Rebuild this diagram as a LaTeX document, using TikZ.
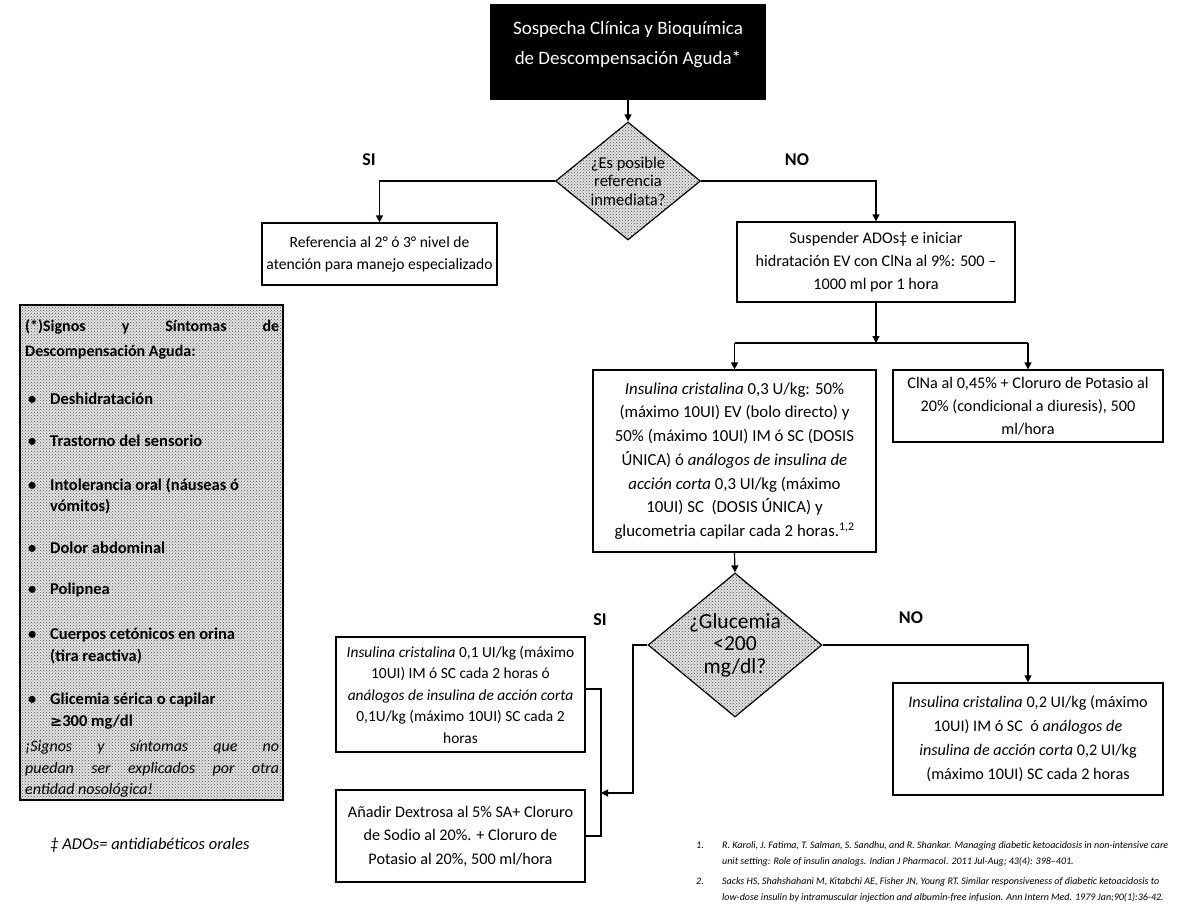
\documentclass[tikz,border=0pt]{standalone}
\usepackage{fontspec}
\setmainfont{Carlito}
\newfontfamily\dvsans{DejaVu Sans}
\usetikzlibrary{arrows.meta,shapes.geometric,patterns}
\hyphenpenalty=10000
\begin{document}
\begin{tikzpicture}[x=1pt,y=-1pt,
  arr/.style={line width=1.2pt,-{Triangle[length=7pt,width=7pt]}},
  ln/.style={line width=1.2pt},
  bx/.style={draw,line width=1.2pt,align=center,inner sep=0pt,font=\fontsize{16.2}{23}\selectfont},
  speck/.style={preaction={fill=gray!22},pattern=crosshatch dots,pattern color=black!70},
  dec/.style={diamond,draw,line width=1.2pt,speck,inner sep=0pt,align=center},
  lab/.style={font=\fontsize{18}{18}\selectfont\bfseries},
  lp/.style={anchor=base west,inner sep=0pt,font=\fontsize{16.5}{19}\selectfont\bfseries},
  lpt/.style={anchor=base west,inner sep=0pt,font=\fontsize{16}{19}\selectfont\bfseries},
  lpi/.style={anchor=base west,inner sep=0pt,font=\fontsize{16}{19}\selectfont\itshape},
  refs/.style={anchor=base west,inner sep=0pt,font=\fontsize{10}{11}\selectfont\itshape}
]
\useasboundingbox (0,0) rectangle (1179,906);
\fill[white] (0,0) rectangle (1179,906);

% top box
\node[fill=black,minimum width=276pt,minimum height=96pt,inner sep=0pt] (top) at (628,52) {};
\node[text=white,align=center,inner sep=0pt,font=\fontsize{19}{30}\selectfont] (toptxt) at (628,45) {Sospecha Clínica y Bioquímica\\de Descompensación Aguda*};

% decision 1
\node[dec,minimum width=145pt,minimum height=118pt,aspect=1.23,font=\fontsize{16.5}{18.5}\selectfont] (d1) at (628,181) {¿Es posible\\referencia\\inmediata?};
\node[lab] (si1) at (369,160) {SI};
\node[lab] (no1) at (797,160) {NO};

% boxes row 1
\node[bx,minimum width=235pt,minimum height=62pt,font=\fontsize{15.6}{22}\selectfont] (ref) at (379.5,254) {Referencia al 2° ó 3° nivel de\\atención para manejo especializado};
\node[bx,minimum width=278pt,minimum height=80pt] (susp) at (876,262) {Suspender ADOs‡ e iniciar\\hidratación EV con ClNa al 9\%: 500 –\\1000 ml por 1 hora};

% boxes row 2
\node[bx,minimum width=283pt,minimum height=182pt,font=\fontsize{16.8}{23.7}\selectfont] (ins) at (734.5,461) {\textit{Insulina cristalina} 0,3 U/kg: 50\%\\(máximo 10UI) EV (bolo directo) y\\50\% (máximo 10UI) IM ó SC (DOSIS\\ÚNICA) ó \textit{análogos de insulina de}\\\textit{acción corta} 0,3 UI/kg (máximo\\10UI) SC\ \ (DOSIS ÚNICA) y\\glucometria capilar cada 2 horas.\textsuperscript{1,2}};
\node[bx,minimum width=270pt,minimum height=72pt] (cl) at (1028,406) {ClNa al 0,45\% + Cloruro de Potasio al\\20\% (condicional a diuresis), 500\\ml/hora};

% decision 2
\node[dec,minimum width=174pt,minimum height=144pt,aspect=1.21,font=\fontsize{21.5}{22.5}\selectfont] (d2) at (735,645) {¿Glucemia\\<200\\mg/dl?};
\node[lab] (si2) at (600,620) {SI};
\node[lab] (no2) at (911,618) {NO};

% bottom boxes
\node[bx,minimum width=270pt,minimum height=112pt,font=\fontsize{16.2}{24}\selectfont] (br) at (1028,739) {\textit{Insulina cristalina} 0,2 UI/kg (máximo\\10UI) IM ó SC\ \ ó \textit{análogos de}\\\textit{insulina de acción corta} 0,2 UI/kg\\(máximo 10UI) SC cada 2 horas};
\node[bx,minimum width=249pt,minimum height=115pt,font=\fontsize{15.4}{21.5}\selectfont] (b1) at (460.5,694.5) {\textit{Insulina cristalina} 0,1 UI/kg (máximo\\10UI) IM ó SC cada 2 horas ó\\\textit{análogos de insulina de acción corta}\\0,1U/kg (máximo 10UI) SC cada 2\\horas};
\node[bx,minimum width=249pt,minimum height=92pt,font=\fontsize{16.2}{23.5}\selectfont] (b2) at (460.5,836) {Añadir Dextrosa al 5\% SA+ Cloruro\\de Sodio al 20\%. + Cloruro de\\Potasio al 20\%, 500 ml/hora};

% connectors
\coordinate (j0) at (876,343);
\coordinate (jl) at (734.5,343);
\coordinate (jr) at (1028,343);
\coordinate (sa) at (633,645);
\coordinate (bt) at (601,689);
\coordinate (bm) at (601,793);
\coordinate (bb) at (601,836);
\draw[arr] (top.south) -- (d1.north);
\draw[arr] (d1.west) -| (ref.north);
\draw[arr] (d1.east) -| (susp.north);
\draw[arr] (susp.south) -- (j0);
\draw[ln] (jl) -- (jr);
\draw[arr] (jl) -- (ins.north);
\draw[arr] (jr) -- (cl.north);
\draw[arr] (ins.south) -- (d2.north);
\draw[arr] (d2.east) -| (br.north);
\draw[arr] (d2.west) -- (sa) |- (bm);
\draw[ln] (bt -| b1.east) -- (bt) -- (bb) -- (b2.east);

% left panel
\node[draw,line width=1.2pt,speck,minimum width=263pt,minimum height=495pt,inner sep=0pt] (panel) at (151.5,552.5) {};
\node[lpt] (p1) at (25,331) {\makebox[254pt][s]{(*)Signos y Síntomas de}};
\node[lpt] (p2) at (25,356) {Descompensación Aguda:};
\node[lp] (b01) at (28,404) {•};
\node[lp] (p3) at (50,404) {Deshidratación};
\node[lp] (b02) at (28,446) {•};
\node[lp] (p4) at (50,446) {Trastorno del sensorio};
\node[lp] (b03) at (28,490) {•};
\node[lp] (p5) at (50,490) {Intolerancia oral (náuseas ó};
\node[lp] (p6) at (50,511) {vómitos)};
\node[lp] (b04) at (28,553) {•};
\node[lp] (p7) at (50,553) {Dolor abdominal};
\node[lp] (b05) at (28,594) {•};
\node[lp] (p8) at (50,594) {Polipnea};
\node[lp] (b06) at (28,639) {•};
\node[lp] (p9) at (50,639) {Cuerpos cetónicos en orina};
\node[lp] (p10) at (50,661) {(tira reactiva)};
\node[lp] (b07) at (28,704) {•};
\node[lp] (p11) at (50,704) {Glicemia sérica o capilar};
\node[lp] (p12) at (50,726) {{\dvsans\fontsize{14.5}{19}\selectfont ≥}300 mg/dl};
\node[lpi] (p13) at (25,751) {\makebox[254pt][s]{¡Signos y síntomas que no}};
\node[lpi] (p14) at (25,773) {\makebox[254pt][s]{puedan ser explicados por otra}};
\node[lpi] (p15) at (25,794) {entidad nosológica!};

% footnote
\node[font=\fontsize{16.5}{16.5}\selectfont\itshape,inner sep=0pt] (fn) at (150,845) {‡ ADOs= antidiabéticos orales};

% references
\node[refs] (r1n) at (696,848) {1.};
\node[refs] (r1a) at (722,848) {R. Karoli, J. Fatima, T. Salman, S. Sandhu, and R. Shankar. Managing diabetic ketoacidosis in non-intensive care};
\node[refs] (r1b) at (722,864) {unit setting: Role of insulin analogs. Indian J Pharmacol. 2011 Jul-Aug; 43(4): 398–401.};
\node[refs] (r2n) at (696,884) {2.};
\node[refs] (r2a) at (722,884) {Sacks HS, Shahshahani M, Kitabchi AE, Fisher JN, Young RT. Similar responsiveness of diabetic ketoacidosis to};
\node[refs] (r2b) at (722,900) {low-dose insulin by intramuscular injection and albumin-free infusion. Ann Intern Med. 1979 Jan;90(1):36-42.};
\end{tikzpicture}
\end{document}
